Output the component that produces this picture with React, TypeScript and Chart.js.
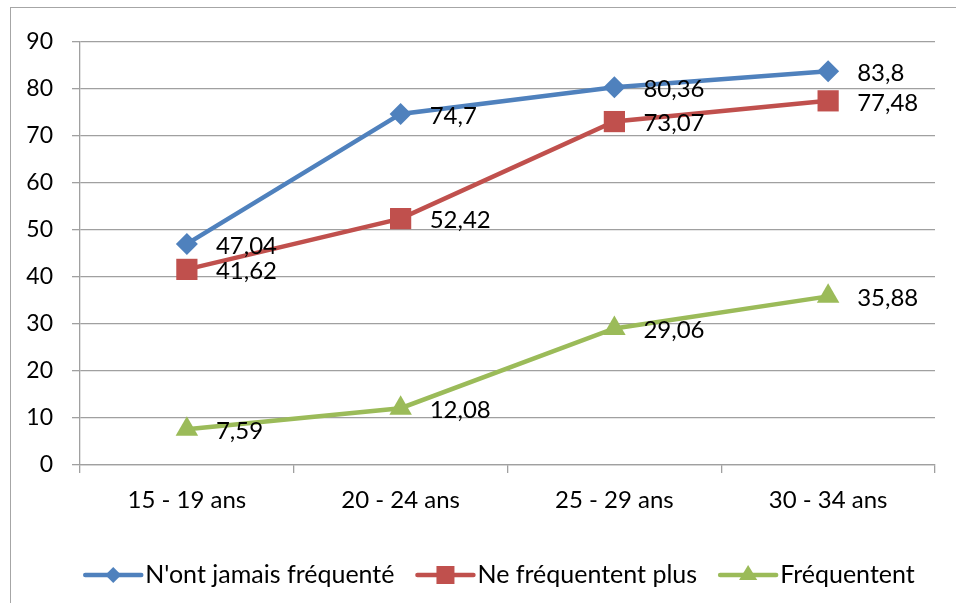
import React, { useEffect, useRef } from "react";
import { Chart, registerables } from "chart.js";

Chart.register(...registerables);

const categories = ["15 - 19 ans", "20 - 24 ans", "25 - 29 ans", "30 - 34 ans"];
const seriesNames = ["N'ont jamais fréquenté", "Ne fréquentent plus", "Fréquentent"];
const neverAttended = [47.04, 74.7, 80.36, 83.8];
const noLonger = [41.62, 52.42, 73.07, 77.48];
const attending = [7.59, 12.08, 29.06, 35.88];
const yTicks = [0, 10, 20, 30, 40, 50, 60, 70, 80, 90];

const COLORS = ["#4F81BD", "#C0504D", "#9BBB59"];
const STYLES = ["rectRot", "rect", "triangle"];
const RADII = [11, 15, 13];
const FONT = "Lato, 'Open Sans', sans-serif";
const FS = 24;
const FS_Y = 23;
const FS_LEGEND = 25;

const fmt = (v: number) => String(v).replace(".", ",");

const labelsPlugin = {
  id: "customLabels",
  afterDatasetsDraw(chart: any) {
    const ctx = chart.ctx;
    ctx.save();
    ctx.font = `${FS}px ${FONT}`;
    ctx.fillStyle = "#000";
    ctx.textAlign = "left";
    ctx.textBaseline = "middle";
    chart.data.datasets.forEach((ds: any, i: number) => {
      const meta = chart.getDatasetMeta(i);
      meta.data.forEach((pt: any, j: number) => {
        ctx.fillText(fmt(ds.data[j]), pt.x + 29, pt.y + 2);
      });
    });
    ctx.restore();
  },
  afterDraw(chart: any) {
    const ctx = chart.ctx;
    ctx.save();
    ctx.font = `${FS_LEGEND}px ${FONT}`;
    const lineW = 56;
    const gapText = 4;
    const gapItem = 23;
    const widths = seriesNames.map((n) => ctx.measureText(n).width);
    const total =
      widths.reduce((a, b) => a + b, 0) + seriesNames.length * (lineW + gapText) + gapItem * (seriesNames.length - 1);
    let x = 500 - total / 2;
    const y = 575;
    seriesNames.forEach((name, i) => {
      ctx.strokeStyle = COLORS[i];
      ctx.lineWidth = 4.5;
      ctx.lineCap = "round";
      ctx.beginPath();
      ctx.moveTo(x, y);
      ctx.lineTo(x + lineW, y);
      ctx.stroke();
      ctx.fillStyle = COLORS[i];
      const cx = x + lineW / 2;
      ctx.beginPath();
      if (i === 0) {
        const r = 8;
        ctx.moveTo(cx - r, y);
        ctx.lineTo(cx, y - r);
        ctx.lineTo(cx + r, y);
        ctx.lineTo(cx, y + r);
        ctx.closePath();
      } else if (i === 1) {
        const s = 9;
        ctx.rect(cx - s, y - s, 2 * s, 2 * s);
      } else {
        const r = 10;
        ctx.moveTo(cx, y - r);
        ctx.lineTo(cx + r * 0.866 * 1.05, y + r * 0.5);
        ctx.lineTo(cx - r * 0.866 * 1.05, y + r * 0.5);
        ctx.closePath();
      }
      ctx.fill();
      ctx.fillStyle = "#000";
      ctx.textAlign = "left";
      ctx.textBaseline = "middle";
      ctx.fillText(name, x + lineW + gapText, y);
      x += lineW + gapText + widths[i] + gapItem;
    });
    ctx.restore();
  },
};

export default function App() {
  const ref = useRef<HTMLCanvasElement | null>(null);
  useEffect(() => {
    if (!ref.current) return;
    const allSeries = [neverAttended, noLonger, attending];
    const chart = new Chart(ref.current, {
      type: "line",
      data: {
        labels: categories,
        datasets: allSeries.map((d, i) => ({
          label: seriesNames[i],
          data: d,
          borderColor: COLORS[i],
          backgroundColor: COLORS[i],
          borderWidth: 4.5,
          pointStyle: STYLES[i] as any,
          pointRadius: RADII[i],
          pointHoverRadius: RADII[i],
          pointBorderWidth: 0,
          pointBackgroundColor: COLORS[i],
          tension: 0,
        })),
      },
      options: {
        animation: false,
        responsive: false,
        events: [],
        layout: { padding: { top: 42, right: 21, left: 0, bottom: 0 } },
        plugins: { legend: { display: false }, tooltip: { enabled: false } },
        scales: {
          x: {
            type: "category",
            offset: true,
            afterFit: (s: any) => {
              s.height = 138;
            },
            grid: {
              offset: true,
              drawOnChartArea: false,
              drawTicks: true,
              tickLength: 8,
              color: "#a0a0a0",
              lineWidth: 1.3,
            },
            border: { display: true, color: "#a0a0a0", width: 1.3 },
            ticks: {
              color: "#000",
              font: { family: FONT, size: FS },
              padding: 13,
              maxRotation: 0,
            },
          },
          y: {
            min: 0,
            max: 90,
            afterFit: (s: any) => {
              s.width = 80;
            },
            afterBuildTicks: (s: any) => {
              s.ticks = yTicks.map((v) => ({ value: v }));
            },
            grid: {
              color: "#a0a0a0",
              lineWidth: 1.3,
              tickLength: 8,
            },
            border: { display: true, color: "#a0a0a0", width: 1.3 },
            ticks: {
              color: "#000",
              font: { family: FONT, size: FS_Y },
              padding: 19,
            },
          },
        },
      },
      plugins: [labelsPlugin],
    });
    return () => chart.destroy();
  }, []);
  return (
    <div
      style={{
        position: "absolute",
        left: 0,
        top: 0,
        width: 956,
        height: 603,
        overflow: "hidden",
        background: "#fff",
      }}
    >
      <div
        style={{
          position: "absolute",
          left: 10,
          top: 7,
          width: 1100,
          height: 800,
          border: "1px solid #a6a6a6",
        }}
      />
      <canvas ref={ref} width={956} height={603} style={{ position: "absolute", left: 0, top: 0 }} />
    </div>
  );
}
